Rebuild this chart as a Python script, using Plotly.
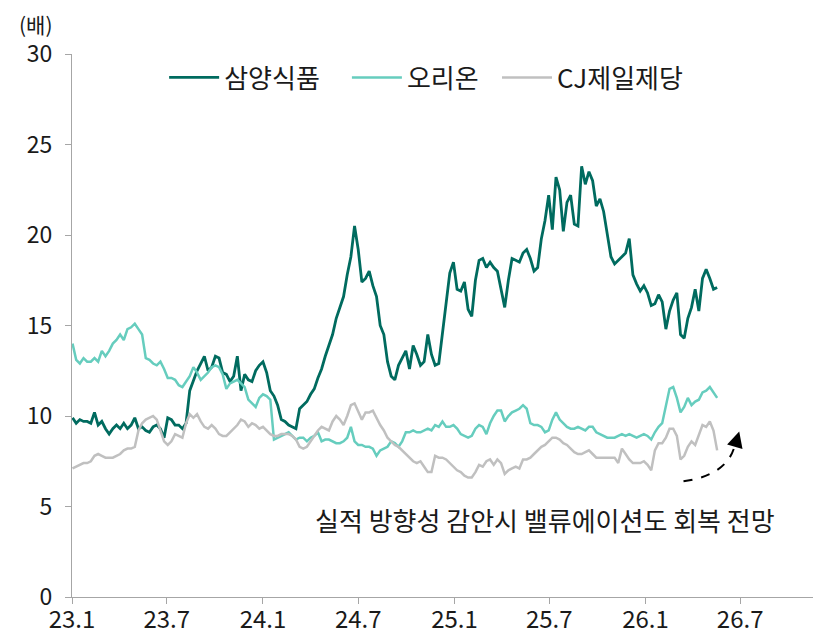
import pandas as pd
import plotly.graph_objects as go

# weekly 12M fwd P/E (배)
dates = pd.date_range("2023-01-02", periods=177, freq="7D")

samyang = [
    9.9, 9.6, 9.8, 9.7, 9.7, 9.6, 10.2, 9.5, 9.7, 9.3,
    9.0, 9.3, 9.5, 9.3, 9.6, 9.3, 9.5, 9.9, 9.3, 9.4,
    9.2, 9.1, 9.4, 9.5, 9.3, 8.8, 9.9, 9.8, 9.5, 9.5,
    9.3, 9.6, 11.4, 12.0, 12.5, 12.9, 13.3, 12.5, 12.7, 13.3,
    13.2, 12.4, 12.3, 11.9, 12.2, 13.3, 11.4, 12.3, 12.0, 11.9,
    12.5, 12.8, 13.0, 12.4, 11.4, 11.1, 10.6, 9.8, 9.7, 9.5,
    9.4, 9.3, 10.4, 10.6, 10.8, 11.2, 11.5, 12.1, 12.6, 13.3,
    13.9, 14.5, 15.4, 16.0, 16.6, 17.8, 18.8, 20.5, 19.2, 17.4,
    17.6, 18.0, 17.2, 16.6, 15.0, 14.5, 13.0, 12.2, 12.0, 12.8,
    13.2, 13.6, 12.6, 13.9, 13.4, 12.8, 13.0, 14.5, 13.4, 12.8,
    12.9, 14.6, 16.3, 17.9, 18.5, 17.0, 16.9, 17.4, 15.9, 15.5,
    17.5, 18.6, 18.7, 18.2, 18.5, 18.2, 18.0, 17.0, 16.0, 17.5,
    18.7, 18.6, 18.5, 19.0, 19.2, 18.7, 18.0, 18.2, 19.8, 20.8,
    22.2, 20.3, 23.2, 22.5, 20.2, 21.8, 22.2, 20.6, 20.5, 23.8,
    22.8, 23.5, 23.0, 21.6, 22.0, 21.3, 20.1, 18.8, 18.4, 18.6,
    18.8, 19.0, 19.8, 17.8, 17.3, 16.9, 17.2, 16.8, 16.1, 16.2,
    16.7, 16.3, 14.8, 15.8, 16.4, 16.8, 14.5, 14.3, 15.4, 16.0,
    17.0, 15.8, 17.6, 18.1, 17.6, 17.0, 17.1,
]

orion = [
    14.0, 13.1, 12.9, 13.2, 13.0, 13.0, 13.2, 13.0, 13.6, 13.3,
    13.6, 14.0, 14.2, 14.5, 14.2, 14.8, 14.9, 15.1, 14.8, 14.5,
    13.2, 13.1, 12.9, 12.8, 13.0, 12.6, 12.1, 12.1, 12.0, 11.7,
    11.6, 11.9, 12.2, 12.7, 12.4, 12.0, 12.2, 12.4, 12.7, 12.8,
    12.7, 12.3, 11.5, 11.8, 11.9, 12.0, 11.8, 11.6, 10.9, 10.7,
    10.5, 11.0, 11.2, 11.1, 10.9, 8.7, 8.8, 8.9, 9.0, 9.1,
    8.9, 8.7, 8.8, 8.8, 8.6, 8.8, 8.9, 9.1, 8.6, 8.7,
    8.7, 8.6, 8.5, 8.5, 8.6, 8.8, 9.4, 8.6, 8.4, 8.4,
    8.3, 8.3, 8.2, 7.8, 8.1, 8.2, 8.3, 8.6, 8.5, 8.3,
    8.6, 9.1, 9.1, 9.2, 9.1, 9.1, 9.2, 9.3, 9.2, 9.5,
    9.4, 9.7, 9.4, 9.4, 9.5, 9.3, 9.0, 8.9, 8.8, 8.9,
    9.3, 9.5, 9.4, 9.0, 9.6, 10.0, 10.3, 10.3, 9.7, 10.0,
    10.2, 10.3, 10.4, 10.6, 10.4, 9.6, 9.5, 9.5, 9.4, 9.1,
    9.2, 9.8, 10.2, 9.8, 9.6, 9.4, 9.3, 9.3, 9.4, 9.3,
    9.2, 9.4, 9.4, 9.1, 9.0, 8.9, 8.8, 8.8, 8.8, 8.9,
    9.0, 8.9, 9.0, 8.9, 8.8, 8.9, 9.0, 8.9, 8.7, 9.1,
    9.4, 9.6, 10.6, 11.5, 11.6, 11.0, 10.2, 10.5, 11.0, 10.6,
    10.8, 10.9, 11.3, 11.4, 11.6, 11.3, 11.0,
]

cj = [
    7.1, 7.2, 7.3, 7.4, 7.4, 7.5, 7.8, 7.9, 7.8, 7.7,
    7.7, 7.7, 7.8, 7.9, 8.1, 8.2, 8.2, 8.3, 9.2, 9.6,
    9.8, 9.9, 10.0, 9.8, 9.2, 8.6, 8.4, 8.6, 9.0, 8.9,
    8.8, 9.6, 10.1, 9.9, 10.1, 9.7, 9.4, 9.3, 9.5, 9.3,
    9.0, 8.9, 8.9, 9.1, 9.3, 9.5, 9.8, 9.7, 9.4, 9.6,
    9.5, 9.3, 9.4, 9.2, 9.0, 8.9, 8.9, 9.0, 9.0, 9.0,
    8.9, 8.7, 8.3, 8.2, 8.3, 8.6, 8.9, 9.2, 9.4, 9.3,
    9.2, 9.7, 10.0, 9.8, 9.5, 10.0, 10.6, 10.7, 10.2, 9.8,
    10.2, 10.2, 10.3, 9.9, 9.5, 9.2, 8.8, 8.6, 8.4, 8.3,
    8.1, 7.9, 7.7, 7.5, 7.4, 7.5, 7.2, 6.9, 6.9, 7.8,
    7.7, 7.7, 7.6, 7.4, 7.2, 7.0, 6.9, 6.7, 6.6, 6.6,
    6.9, 7.3, 7.2, 7.5, 7.6, 7.3, 7.6, 7.4, 6.8, 7.0,
    7.1, 7.2, 7.1, 7.6, 7.6, 7.7, 7.9, 8.1, 8.3, 8.4,
    8.6, 8.8, 8.8, 8.7, 8.5, 8.4, 8.2, 8.0, 7.9, 7.9,
    8.0, 8.1, 7.9, 7.7, 7.7, 7.7, 7.7, 7.7, 7.7, 7.4,
    8.2, 7.9, 7.6, 7.4, 7.4, 7.4, 7.5, 7.3, 7.0, 8.1,
    8.5, 8.5, 8.8, 9.3, 9.3, 8.9, 7.6, 7.8, 8.3, 8.6,
    8.4, 9.0, 9.5, 9.4, 9.7, 9.2, 8.1,
]

tick_dates = ["2023-01-01", "2023-07-01", "2024-01-01", "2024-07-01",
              "2025-01-01", "2025-07-01", "2026-01-01", "2026-07-01"]
tick_labels = ["23.1", "23.7", "24.1", "24.7", "25.1", "25.7", "26.1", "26.7"]

FONT = "Noto Sans CJK KR"

fig = go.Figure()
fig.add_trace(go.Scatter(x=dates, y=samyang, mode="lines", name="삼양식품",
                         line=dict(color="#006B5F", width=2.8), legend="legend"))
fig.add_trace(go.Scatter(x=dates, y=orion, mode="lines", name="오리온",
                         line=dict(color="#66CDBE", width=2.5), legend="legend2"))
fig.add_trace(go.Scatter(x=dates, y=cj, mode="lines", name="CJ제일제당",
                         line=dict(color="#C0C0C0", width=2.5), legend="legend3"))

legend_style = dict(orientation="h", y=1.0, xanchor="left", yanchor="top",
                    font=dict(size=26), bgcolor="rgba(0,0,0,0)", itemwidth=50)

# page body has an 8px margin, so the figure is sized to fit inside it
fig.update_layout(
    width=813, height=629,
    margin=dict(l=64, r=6, t=46, b=40),
    plot_bgcolor="white", paper_bgcolor="white",
    font=dict(family=FONT, size=24, color="#1a1a1a"),
    showlegend=True,
    legend=dict(x=0.124, **legend_style),
    legend2=dict(x=0.370, **legend_style),
    legend3=dict(x=0.572, **legend_style),
    xaxis=dict(type="date", range=["2023-01-01", "2026-11-21"],
               tickvals=tick_dates, ticktext=tick_labels,
               showgrid=False, zeroline=False, automargin=False,
               showline=True, linecolor="#A6A6A6", linewidth=1.2,
               ticks="outside", ticklen=6, tickcolor="#A6A6A6",
               ticklabelstandoff=-5, tickfont=dict(size=24)),
    yaxis=dict(range=[0, 30], tickvals=[0, 5, 10, 15, 20, 25, 30],
               showgrid=False, zeroline=False, automargin=False,
               showline=True, linecolor="#A6A6A6", linewidth=1.2,
               ticks="outside", ticklen=6, tickcolor="#A6A6A6",
               ticklabelstandoff=8, tickfont=dict(size=23)),
)

fig.add_annotation(text="(배)", xref="paper", yref="paper", x=-0.074, y=1.086,
                   xanchor="left", yanchor="top", showarrow=False,
                   font=dict(size=21))
fig.add_annotation(text="실적 방향성 감안시 밸류에이션도 회복 전망",
                   xref="paper", yref="paper", x=0.637, y=0.142,
                   xanchor="center", yanchor="middle", showarrow=False,
                   font=dict(size=26))

# dashed curved arrow
fig.add_shape(type="path", xref="paper", yref="paper",
              path="M 0.823 0.213 Q 0.885 0.225 0.893 0.285",
              line=dict(color="black", width=2, dash="dash"))
fig.add_annotation(x=0.898, y=0.305, xref="paper", yref="paper", text="",
                   showarrow=True, ax=-4, ay=14, arrowhead=2, arrowsize=1.6,
                   arrowwidth=2, arrowcolor="black")

fig.write_html("out.html")
